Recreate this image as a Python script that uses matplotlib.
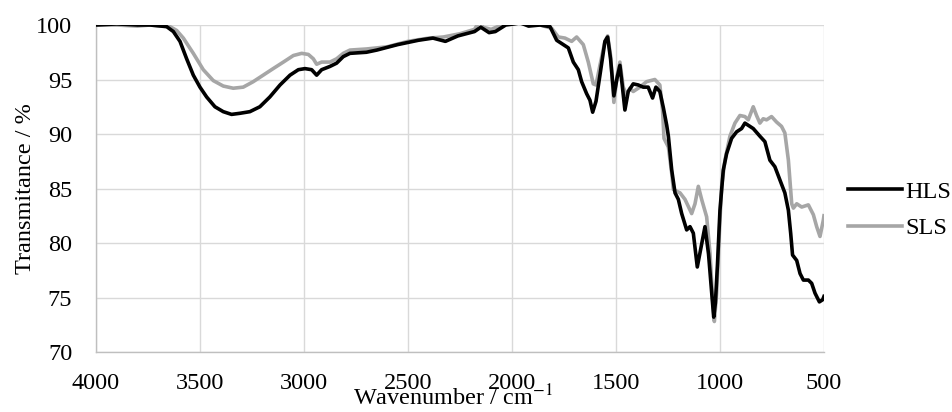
import numpy as np
import matplotlib
matplotlib.use('Agg')
import matplotlib.pyplot as plt

# FTIR spectra (wavenumber in cm-1, transmittance in %)
hls_wn = [4000, 3900, 3800, 3740, 3660, 3628, 3596, 3564, 3532, 3500, 3468, 3428, 3388,
          3348, 3308, 3260, 3212, 3164, 3115, 3067, 3027, 2995, 2963, 2939, 2915, 2875,
          2843, 2811, 2779, 2700, 2650, 2550, 2450, 2380, 2320, 2260, 2180, 2150, 2110,
          2080, 2030, 1990, 1960, 1920, 1865, 1817, 1785, 1753, 1729, 1705, 1681, 1665,
          1641, 1625, 1612, 1596, 1577, 1553, 1540, 1526, 1510, 1494, 1481, 1470, 1457,
          1441, 1417, 1393, 1369, 1345, 1324, 1308, 1289, 1272, 1256, 1248, 1232, 1216,
          1200, 1184, 1160, 1144, 1128, 1109, 1093, 1072, 1055, 1040, 1030, 1022, 1012,
          1000, 984, 968, 944, 920, 896, 880, 864, 840, 808, 784, 760, 736, 712, 688, 671,
          660, 651, 631, 615, 599, 575, 559, 543, 522, 506, 500]
hls_t = [100.0, 100.1, 100.0, 100.0, 99.85, 99.4, 98.5, 96.9, 95.4, 94.3, 93.4, 92.5, 92.05,
         91.8, 91.9, 92.05, 92.5, 93.4, 94.5, 95.4, 95.9, 96.0, 95.9, 95.4, 95.9, 96.2,
         96.5, 97.1, 97.4, 97.5, 97.7, 98.2, 98.6, 98.8, 98.5, 99.0, 99.4, 99.8, 99.3,
         99.4, 100.0, 100.1, 100.2, 99.9, 100.0, 99.85, 98.6, 98.2, 97.9, 96.6, 95.9, 94.8,
         93.7, 93.1, 92.0, 93.0, 95.4, 98.5, 98.9, 96.9, 93.5, 95.2, 96.3, 94.5, 92.2,
         93.9, 94.6, 94.5, 94.3, 94.3, 93.3, 94.3, 93.9, 92.4, 90.8, 89.8, 86.7, 84.6,
         84.0, 82.7, 81.2, 81.5, 80.9, 77.8, 79.4, 81.5, 79.0, 75.5, 73.2, 74.5, 78.0,
         83.0, 86.7, 88.2, 89.6, 90.2, 90.5, 91.0, 90.8, 90.5, 89.8, 89.3, 87.6, 87.0,
         85.8, 84.6, 83.0, 80.9, 78.9, 78.4, 77.2, 76.6, 76.6, 76.3, 75.4, 74.6, 74.8, 75.1]

sls_wn = [4000, 3900, 3800, 3740, 3644, 3612, 3580, 3532, 3484, 3436, 3388, 3340, 3292,
          3244, 3196, 3148, 3099, 3051, 3011, 2979, 2955, 2939, 2915, 2875, 2843, 2811,
          2779, 2700, 2600, 2500, 2400, 2330, 2250, 2180, 2155, 2140, 2100, 2050, 2000,
          1950, 1900, 1865, 1809, 1777, 1745, 1713, 1689, 1657, 1633, 1609, 1596, 1577,
          1553, 1540, 1526, 1510, 1494, 1481, 1465, 1449, 1433, 1417, 1385, 1353, 1313,
          1289, 1276, 1269, 1248, 1232, 1224, 1192, 1168, 1136, 1120, 1104, 1088, 1064,
          1048, 1035, 1027, 1016, 1003, 992, 976, 952, 928, 904, 880, 864, 840, 824, 808,
          792, 776, 752, 728, 704, 688, 671, 655, 647, 631, 607, 575, 551, 535, 519, 503, 500]
sls_t = [100.0, 100.0, 99.9, 100.0, 99.85, 99.5, 98.8, 97.4, 95.9, 94.9, 94.4, 94.2, 94.3,
         94.8, 95.4, 96.0, 96.6, 97.2, 97.4, 97.3, 96.9, 96.4, 96.6, 96.6, 96.9, 97.4,
         97.7, 97.8, 98.0, 98.5, 98.8, 98.9, 99.2, 99.6, 100.4, 99.8, 99.6, 100.0, 100.3,
         100.1, 100.0, 100.0, 99.7, 98.9, 98.8, 98.5, 98.9, 98.2, 96.6, 94.6, 94.5, 96.3,
         98.5, 99.0, 97.2, 92.9, 95.4, 96.6, 94.3, 93.6, 94.2, 93.9, 94.3, 94.8, 95.0,
         94.5, 92.2, 89.6, 88.8, 86.4, 84.9, 84.6, 84.0, 82.7, 83.6, 85.2, 84.0, 82.4,
         79.1, 74.8, 72.8, 75.4, 80.9, 85.2, 87.6, 89.8, 91.0, 91.7, 91.6, 91.3, 92.5, 91.7,
         91.0, 91.4, 91.3, 91.6, 91.1, 90.7, 90.1, 87.6, 83.6, 83.2, 83.6, 83.3, 83.5, 82.6,
         81.5, 80.6, 82.1, 82.5]

plt.rcParams['font.family'] = ['Liberation Serif', 'DejaVu Serif']
plt.rcParams['mathtext.fontset'] = 'stix'
FS = 17.5

fig = plt.figure(figsize=(9.52, 4.12), dpi=100)
ax = fig.add_axes([0.1008, 0.1456, 0.7647, 0.7937])

ax.plot(hls_wn, hls_t, color='black', lw=2.6, label='HLS', zorder=3)
ax.plot(sls_wn, sls_t, color='#a6a6a6', lw=2.6, label='SLS', zorder=2)

ax.set_xlim(4000, 500)
ax.set_ylim(70, 100)
ax.set_xticks(np.arange(4000, 499, -500))
ax.set_yticks(np.arange(70, 101, 5))
ax.grid(True, color='#d9d9d9', lw=1.0)
ax.set_axisbelow(True)
for s in ('top', 'right'):
    ax.spines[s].set_visible(False)
for s in ('left', 'bottom'):
    ax.spines[s].set_color('#bfbfbf')
    ax.spines[s].set_linewidth(1.0)
ax.tick_params(length=0, labelsize=FS, pad=17)
ax.tick_params(axis='x', pad=15)

ax.set_ylabel('Transmitance / %', fontsize=FS)
ax.yaxis.set_label_coords(-0.082, 0.5)
ax.set_xlabel('Wavenumber / cm$^{-1}$', fontsize=FS, va='bottom')
ax.xaxis.set_label_coords(0.49, -0.177)

ax.legend(loc='center left', bbox_to_anchor=(1.02, 0.434), frameon=False, fontsize=FS,
          handlelength=2.2, handletextpad=0.15, labelspacing=0.6, borderaxespad=0)

fig.savefig('out.png', dpi=100)
